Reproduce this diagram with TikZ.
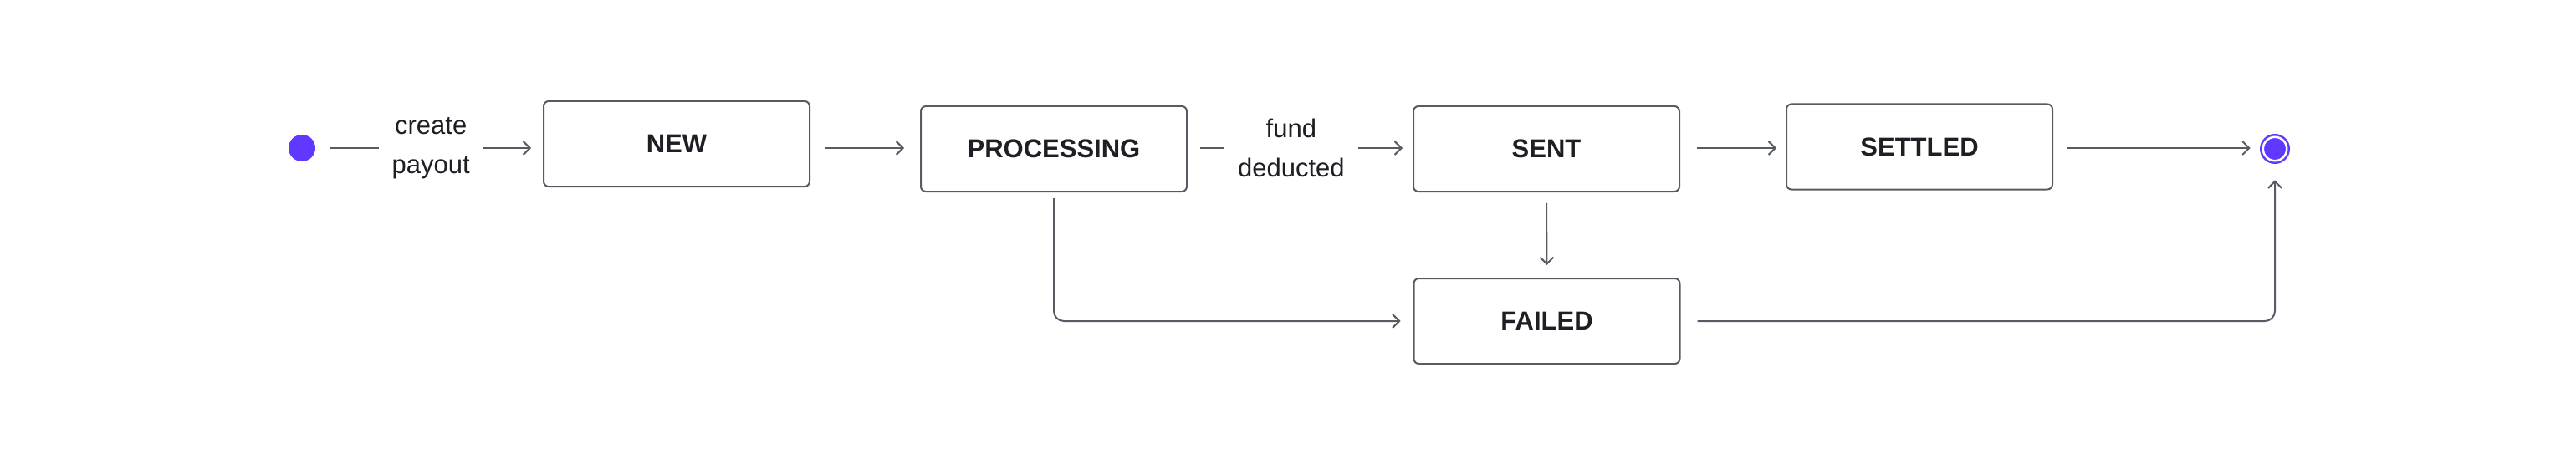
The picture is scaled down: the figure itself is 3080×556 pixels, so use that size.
\documentclass[tikz,border=0pt]{standalone}
\usepackage{fontspec}
\setmainfont{Liberation Sans}
\usetikzlibrary{arrows.meta,calc}
\definecolor{ink}{HTML}{1E1F24}
\definecolor{edgecol}{HTML}{575B63}
\definecolor{accent}{HTML}{6038FF}
\begin{document}
\begin{tikzpicture}[x=0.5pt,y=-0.5pt,
  state/.style={draw=edgecol,line width=1pt,rounded corners=3pt,minimum width=159pt,minimum height=51pt,inner sep=0pt,font=\fontsize{15.5}{18}\selectfont\bfseries,text=ink},
  flow/.style={draw=edgecol,line width=1pt,-{Straight Barb[length=4pt,width=8pt]}},
  lbl/.style={fill=white,font=\fontsize{15.5}{23.5}\selectfont,text=ink,align=center,inner xsep=8pt,inner ysep=0pt}]
\fill[white] (0,0) rectangle (3080,556);
\useasboundingbox (0,0) rectangle (3080,556);

\node[circle,fill=accent,minimum size=16pt,inner sep=0pt] (start) at (361,177) {};
\node[circle,fill=accent,minimum size=18pt,inner sep=0pt] (end) at (2720,178) {};
\draw[white,line width=1.25pt] (end.center) circle[radius=7.1pt];

\node[state] (NEW) at (809,172) {NEW};
\node[state] (PROC) at (1260,178) {PROCESSING};
\node[state] (SENT) at (1849,178) {SENT};
\node[state] (SETTLED) at (2295,175.5) {SETTLED};
\node[state] (FAILED) at (1849.5,384) {FAILED};

\draw[flow] ($(start.east)+(18,0)$) -- node[lbl]{create\\payout} ($(NEW.west |- start)+(-14,0)$);
\draw[flow] ($(NEW.east |- start)+(18,0)$) -- ($(PROC.west |- start)+(-19,0)$);
\draw[flow] ($(PROC.east |- start)+(15,0)$) -- node[lbl,pos=0.45]{fund\\deducted} ($(SENT.west |- start)+(-12,0)$);
\draw[flow] ($(SENT.east |- start)+(20,0)$) -- ($(SETTLED.west |- start)+(-11,0)$);
\draw[flow] ($(SETTLED.east |- start)+(17,0)$) -- ($(end.west |- start)+(-11,0)$);
\draw[flow,rounded corners=6pt] ($(PROC.south)+(0,7)$) |- ($(FAILED.west)+(-15,0)$);
\draw[flow] ($(SENT.south)+(0,13)$) -- ($(FAILED.north)+(0,-15)$);
\draw[flow,rounded corners=6pt] ($(FAILED.east)+(20,0)$) -| ($(end.south)+(0,19)$);
\end{tikzpicture}
\end{document}
